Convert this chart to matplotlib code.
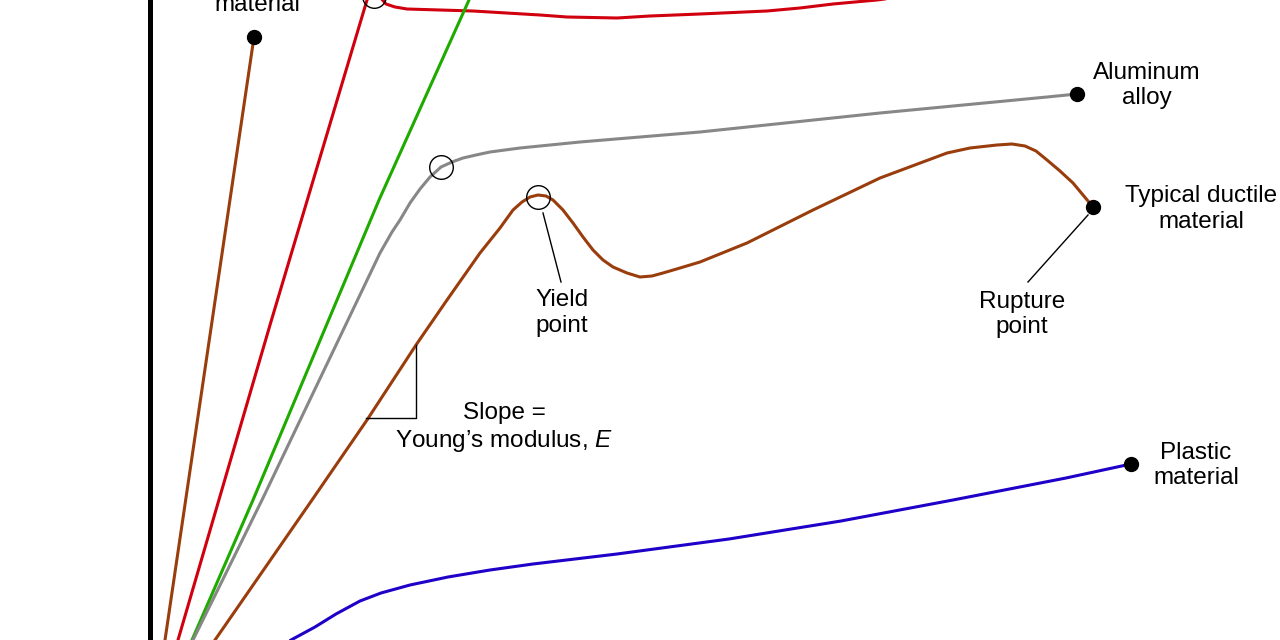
import matplotlib
matplotlib.use("Agg")
import matplotlib.pyplot as plt

plt.rcParams['font.family'] = ['Liberation Sans', 'DejaVu Sans']
plt.rcParams['mathtext.fontset'] = 'custom'
plt.rcParams['mathtext.rm'] = 'Liberation Sans'
plt.rcParams['mathtext.it'] = 'Liberation Sans:italic'

# Curves in diagram coordinates (strain -> x, stress -> y, y measured downward)
brittle_x = [165, 254]
brittle_y = [640, 37]

steel_x = [178, 270, 367, 370, 375, 380, 386, 395, 407, 440, 473, 540, 567, 617, 650, 700, 767, 800, 833, 877, 900]
steel_y = [640, 325, 0, -5, -7, -3, 4, 7, 9, 10, 11, 15, 17, 18, 16, 14, 11, 8, 4, 0, -3]

green_x = [192, 253, 379, 469]
green_y = [640, 500, 200, 0]

alu_x = [193, 262, 380, 392, 400, 410, 420, 430, 441, 452, 463, 476, 490, 520, 580, 700, 880, 1047, 1077]
alu_y = [640, 500, 253, 232, 220, 203, 189, 177, 167, 162, 158, 155, 152, 148, 142, 132, 113, 97, 94]

duct_x = [215, 312, 367, 416, 447, 480, 500, 513, 522, 530, 538, 546, 553, 563, 573, 583, 593, 603, 613, 627,
          640, 652, 663, 680, 700, 747, 813, 880, 947, 970, 997, 1012, 1025, 1036, 1047, 1060, 1073, 1083, 1093]
duct_y = [640, 500, 420, 345, 300, 253, 228, 210, 202, 197, 195, 196, 200, 210, 223, 237, 250, 260, 267, 273,
          277, 276, 273, 268, 262, 243, 210, 178, 153, 148, 145, 144, 146, 151, 160, 171, 183, 195, 207]

plastic_x = [291, 315, 336, 360, 381, 410, 448, 490, 533, 617, 729, 841, 953, 1066, 1131]
plastic_y = [640, 627, 614, 601, 593, 585, 577, 570, 564, 554, 539, 521, 500, 478, 464]

# Rupture (end) points and yield points
end_x = [254, 1077, 1093, 1131]
end_y = [37, 94, 207, 464]
yield_x = [374, 441, 538]
yield_y = [-4, 167, 197]

BROWN = '#9A3D0C'
RED = '#D0000E'
GREEN = '#1FAA00'
GRAY = '#878787'
BLUE = '#1E00C8'

fig = plt.figure(figsize=(12.8, 6.4), dpi=100)
ax = fig.add_axes([0, 0, 1, 1])
ax.set_xlim(0, 1280)
ax.set_ylim(640, 0)
ax.axis('off')

# stress axis
ax.plot([150, 150], [-10, 700], color='black', lw=3.6, solid_capstyle='butt')

lw = 2.2
ax.plot(brittle_x, brittle_y, color=BROWN, lw=lw, solid_capstyle='round')
ax.plot(steel_x, steel_y, color=RED, lw=lw, solid_joinstyle='round')
ax.plot(green_x, green_y, color=GREEN, lw=lw)
ax.plot(alu_x, alu_y, color=GRAY, lw=lw, solid_joinstyle='round')
ax.plot(duct_x, duct_y, color=BROWN, lw=lw, solid_joinstyle='round')
ax.plot(plastic_x, plastic_y, color=BLUE, lw=lw, solid_joinstyle='round')

ax.plot(end_x, end_y, 'o', color='black', ms=10, zorder=5)
ax.plot(yield_x, yield_y, 'o', mfc='none', mec='black', mew=1.0, ms=17, zorder=5)

# slope triangle
ax.plot([366, 416, 416], [418, 418, 345], color='black', lw=1.0)
# leader lines
ax.plot([543, 561], [213, 282], color='black', lw=1.0)
ax.plot([1088, 1028], [215, 282], color='black', lw=1.0)

fs = 17.5
ls = 1.22
kw = dict(ha='center', va='center', fontsize=fs, linespacing=ls)
ax.text(257, -8, 'Brittle\nmaterial', **kw)
ax.text(1147, 85.5, 'Aluminum\nalloy', **kw)
ax.text(1201, 209, 'Typical ductile\nmaterial', **kw)
ax.text(562, 313, 'Yield\npoint', **kw)
ax.text(1022, 314.5, 'Rupture\npoint', **kw)
ax.text(504, 428, 'Slope =\nYoung\u2019s modulus, $E$', **kw)
ax.text(1196, 465.5, 'Plastic\nmaterial', **kw)

fig.savefig('out.png', dpi=100)
